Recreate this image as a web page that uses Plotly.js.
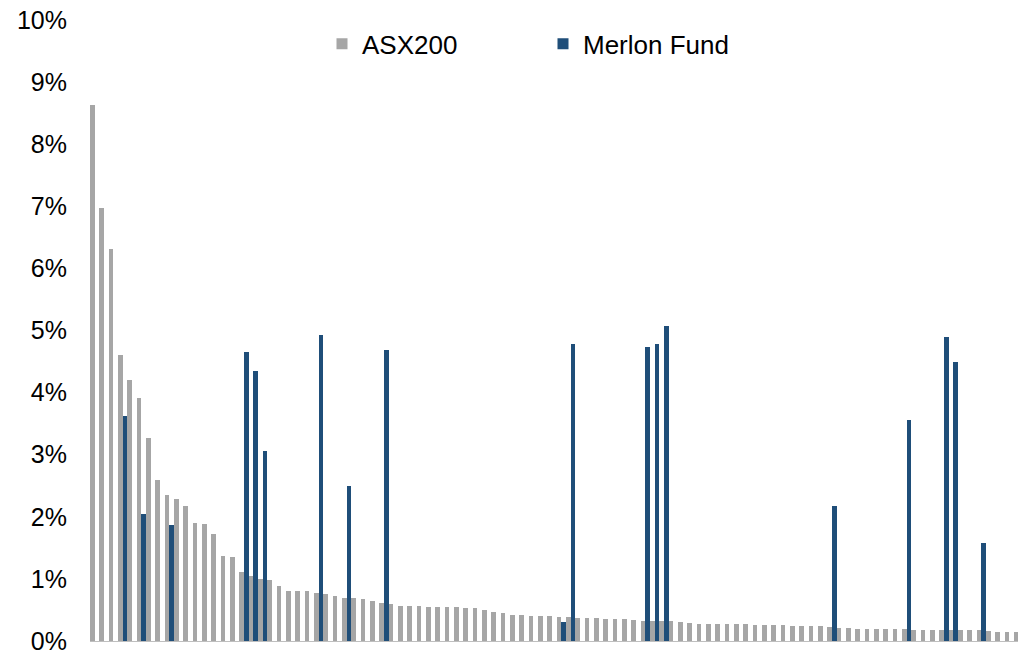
<!DOCTYPE html>
<html>
<head>
<meta charset="utf-8">
<script src="https://cdn.plot.ly/plotly-3.0.1.min.js"></script>
<style>
  html, body { margin: 0; padding: 0; background: #ffffff; }
  #chart { width: 1018px; height: 652px; }
</style>
</head>
<body>
<div id="chart"></div>
<script>
// Index weights (%) of the top 100 ASX200 stocks, ranked largest to smallest
const asx200Weights = [
  8.63, 6.97, 6.32, 4.61, 4.21, 3.91, 3.27, 2.59, 2.35, 2.29,
  2.18, 1.90, 1.89, 1.73, 1.37, 1.35, 1.11, 1.04, 1.00, 0.98,
  0.89, 0.81, 0.80, 0.80, 0.77, 0.75, 0.72, 0.69, 0.69, 0.67,
  0.64, 0.61, 0.60, 0.56, 0.56, 0.56, 0.55, 0.55, 0.55, 0.54,
  0.53, 0.53, 0.50, 0.46, 0.45, 0.42, 0.42, 0.41, 0.40, 0.40,
  0.39, 0.39, 0.37, 0.37, 0.37, 0.36, 0.35, 0.35, 0.34, 0.33,
  0.32, 0.32, 0.32, 0.30, 0.29, 0.28, 0.28, 0.27, 0.27, 0.27,
  0.27, 0.26, 0.26, 0.26, 0.25, 0.24, 0.24, 0.24, 0.24, 0.23,
  0.21, 0.21, 0.20, 0.20, 0.20, 0.19, 0.19, 0.19, 0.18, 0.18,
  0.18, 0.18, 0.17, 0.17, 0.17, 0.17, 0.16, 0.15, 0.15, 0.15
];

// Rank (1 = largest index weight) of each stock
const stockRanks = asx200Weights.map((_, i) => i + 1);

// Merlon Fund holdings: index rank of the stock and the fund's weight (%)
const merlonRanks = [4, 6, 9, 17, 18, 19, 25, 28, 32, 51, 52, 60, 61, 62, 80, 88, 92, 93, 96];
const merlonWeights = [3.62, 2.05, 1.86, 4.66, 4.34, 3.06, 4.93, 2.50, 4.69, 0.31,
                       4.79, 4.73, 4.79, 5.07, 2.17, 3.56, 4.90, 4.49, 1.58];

const seriesNames = ['ASX200', 'Merlon Fund'];
const seriesColors = ['#A6A6A6', '#1F4E79'];

const yTicks = [0, 1, 2, 3, 4, 5, 6, 7, 8, 9, 10];
const yTickLabels = ['0%', '1%', '2%', '3%', '4%', '5%', '6%', '7%', '8%', '9%', '10%'];

const FONT = 'Arial, "Liberation Sans", sans-serif';

const traces = [
  {
    type: 'bar',
    name: seriesNames[0],
    x: stockRanks,
    y: asx200Weights,
    marker: { color: seriesColors[0], line: { width: 0 } },
    showlegend: false,
    hoverinfo: 'x+y'
  },
  {
    type: 'bar',
    name: seriesNames[1],
    x: merlonRanks,
    y: merlonWeights,
    marker: { color: seriesColors[1], line: { width: 0 } },
    showlegend: false,
    hoverinfo: 'x+y'
  },
  // square legend keys for the two series
  {
    type: 'scatter',
    mode: 'markers',
    name: seriesNames[0],
    x: [null],
    y: [null],
    marker: { symbol: 'square', size: 11, color: seriesColors[0], line: { width: 0 } },
    hoverinfo: 'skip'
  },
  {
    type: 'scatter',
    mode: 'markers',
    name: seriesNames[1],
    x: [null],
    y: [null],
    marker: { symbol: 'square', size: 11, color: seriesColors[1], line: { width: 0 } },
    hoverinfo: 'skip'
  }
];

const layout = {
  width: 1018,
  height: 652,
  margin: { l: 90, r: 0, t: 20, b: 11, pad: 0 },
  paper_bgcolor: '#ffffff',
  plot_bgcolor: '#ffffff',
  barmode: 'group',
  bargap: 0,
  bargroupgap: 0,
  font: { family: FONT, size: 25, color: '#000000' },
  showlegend: true,
  legend: {
    orientation: 'h',
    x: 0.25,
    xanchor: 'left',
    y: 0.9614,
    yanchor: 'middle',
    yref: 'paper',
    font: { family: FONT, size: 26, color: '#000000' },
    bgcolor: 'rgba(0,0,0,0)',
    borderwidth: 0,
    entrywidth: 176,
    entrywidthmode: 'pixels',
    traceorder: 'normal'
  },
  xaxis: {
    type: 'linear',
    range: [0.5, 99.93],
    showticklabels: false,
    ticks: '',
    showgrid: false,
    zeroline: false,
    showline: true,
    linecolor: '#BFBFBF',
    linewidth: 1,
    fixedrange: true
  },
  yaxis: {
    range: [0, 10],
    tickmode: 'array',
    tickvals: yTicks,
    ticktext: yTickLabels,
    ticks: '',
    ticklabelstandoff: 22,
    ticklabeloverflow: 'allow',
    tickfont: { family: FONT, size: 25, color: '#000000' },
    showgrid: false,
    zeroline: false,
    showline: false,
    automargin: false,
    fixedrange: true
  }
};

Plotly.newPlot('chart', traces, layout, { displayModeBar: false, staticPlot: true });
</script>
</body>
</html>
